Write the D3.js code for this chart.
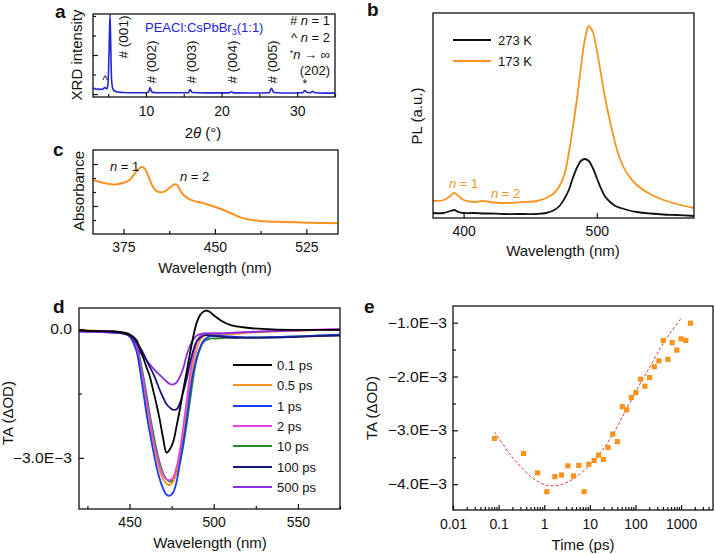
<!DOCTYPE html>
<html><head><meta charset="utf-8">
<script src="https://cdn.jsdelivr.net/npm/d3@7"></script>
<style>
body{margin:0;background:#fff}
svg{display:block}
text{font-family:"Liberation Sans",Arial,Helvetica,sans-serif;fill:#111}
</style>
</head><body>
<svg id="fig" width="715" height="554"></svg>
<script>
// ---------- Panel a : XRD ----------
const xrdTheta = [3.0,3.2,3.4,3.6,3.8,4.0,4.2,4.4,4.55,4.7,4.85,4.95,5.05,5.15,5.25,5.35,5.45,5.6,5.8,6.2,7,8.5,10.0,10.35,10.55,10.75,11.1,13,15.6,15.85,16.1,18,21.0,21.3,21.6,24,26.3,26.6,26.9,28,30.7,31.0,31.3,31.7,32.05,32.4,33.5,35];
const xrdInt   = [260,300,240,270,230,260,240,280,340,300,280,420,1100,2600,4080,2400,800,300,170,110,80,70,70,110,330,120,75,65,70,230,80,60,60,120,60,55,70,300,80,55,65,180,90,70,140,65,50,50];
const xrdPeakLabels = ["# (001)","# (002)","# (003)","# (004)","# (005)"];
const xrdPeakPos = [5.25,10.55,15.85,21.3,26.6];
const xrdXTicks = [10,20,30];
const xrdXMinor = [5,15,25,35];

// ---------- Panel b : PL ----------
const plWl    = [377,385,390,393,396,400,408,415,420,430,445,455,462,468,472,476,479,482,485,488,491,494,497,500,503,506,510,514,518,523,530,540,550,560,573];
const pl173K  = [17,18,22,25,22,18,16,17,16,15,16,17,20,25,32,45,65,90,118,150,178,192,186,168,145,122,96,74,57,44,33,24,18,14,10];
const pl273K  = [5,5,7,8,6,5,5,4.5,4.5,4,4,4,5,8,12,20,28,40,50,57,59,57,50,40,30,22,16,12,10,8,6,4.5,3.5,3,2];
const plXTicks = [400,500];

// ---------- Panel c : absorbance ----------
const absWl  = [350,358,365,370,375,380,384,388,390.5,393,396,399,402,405,409,413,417,419,422,426,432,440,448,456,464,471,479,487,497,506,520,535,551];
const absVal = [3.86,3.66,3.55,3.56,3.66,3.86,4.3,4.7,4.81,4.6,4.0,3.4,3.08,2.98,3.05,3.3,3.55,3.5,3.05,2.65,2.38,2.22,2.0,1.75,1.45,1.19,1.02,0.93,0.88,0.86,0.82,0.79,0.76];
const absXTicks = [375,450,525];
const absXMinor = [412.5,487.5];

// ---------- Panel d : TA spectra (values in 1E-3 OD) ----------
const taWl = [420,430,440,446,450,454,456,458,460,462,464,466,468,470,472,474,476,478,480,482,484,486,488,490,492,494,496,498,500,505,510,520,535,550,575];
const ta01  = [-0.03,-0.05,-0.05,-0.08,-0.12,-0.25,-0.45,-0.65,-0.88,-1.1,-1.42,-1.75,-2.12,-2.55,-2.88,-2.8,-2.62,-2.25,-1.85,-1.4,-0.98,-0.55,-0.15,0.16,0.33,0.41,0.43,0.39,0.32,0.18,0.09,0.03,-0.01,-0.02,-0.02];
const ta05  = [-0.02,-0.04,-0.06,-0.08,-0.15,-0.45,-0.85,-1.3,-1.8,-2.25,-2.65,-3.0,-3.3,-3.5,-3.6,-3.63,-3.55,-3.3,-2.95,-2.45,-1.9,-1.3,-0.8,-0.45,-0.25,-0.16,-0.13,-0.12,-0.12,-0.12,-0.12,-0.09,-0.06,-0.04,-0.01];
const ta1   = [-0.04,-0.06,-0.08,-0.1,-0.17,-0.5,-0.9,-1.42,-1.95,-2.4,-2.82,-3.2,-3.5,-3.72,-3.86,-3.88,-3.8,-3.55,-3.1,-2.62,-2.08,-1.45,-0.98,-0.65,-0.42,-0.27,-0.2,-0.16,-0.15,-0.16,-0.17,-0.2,-0.19,-0.17,-0.13];
const ta2   = [-0.06,-0.07,-0.08,-0.1,-0.15,-0.4,-0.75,-1.15,-1.65,-2.1,-2.55,-2.9,-3.2,-3.4,-3.5,-3.52,-3.45,-3.2,-2.8,-2.25,-1.65,-1.05,-0.6,-0.3,-0.16,-0.11,-0.1,-0.1,-0.1,-0.1,-0.09,-0.07,-0.05,-0.03,0.0];
const ta10  = [-0.03,-0.05,-0.07,-0.09,-0.14,-0.35,-0.65,-1.05,-1.5,-1.98,-2.4,-2.8,-3.12,-3.36,-3.5,-3.55,-3.52,-3.35,-3.1,-2.7,-2.2,-1.65,-1.1,-0.7,-0.45,-0.3,-0.25,-0.22,-0.22,-0.21,-0.2,-0.2,-0.19,-0.17,-0.14];
const ta100 = [-0.03,-0.05,-0.07,-0.1,-0.15,-0.3,-0.41,-0.55,-0.72,-0.88,-1.03,-1.22,-1.42,-1.6,-1.75,-1.83,-1.88,-1.87,-1.72,-1.45,-1.15,-0.78,-0.48,-0.28,-0.2,-0.15,-0.14,-0.15,-0.16,-0.18,-0.2,-0.2,-0.2,-0.18,-0.15];
const ta500 = [-0.06,-0.07,-0.08,-0.1,-0.16,-0.35,-0.53,-0.62,-0.72,-0.82,-0.91,-1.0,-1.07,-1.15,-1.22,-1.28,-1.29,-1.24,-1.1,-0.9,-0.6,-0.38,-0.24,-0.15,-0.12,-0.1,-0.1,-0.1,-0.1,-0.1,-0.09,-0.07,-0.05,-0.03,-0.01];
const taLabels = ["0.1 ps","0.5 ps","1 ps","2 ps","10 ps","100 ps","500 ps"];
const taColors = ["#000000","#f7931e","#1b3cf2","#e845e0","#24882c","#17177a","#8a2ee6"];
const taXTicks = [450,500,550];
const taXMinor = [425,475,525,575];
const taYTicks = [0,-3];
const taYMinor = [-1.5];

// ---------- Panel e : TA kinetics (values in 1E-3 OD) ----------
const kinT   = [0.081,0.353,0.715,1.14,1.71,2.39,3.29,4.37,5.72,7.48,9.46,12.4,15.6,19.8,25.0,31.7,40.0,51.5,64.0,81,102,129,161,204,258,326,405,512,637,806,1000,1267,1603];
const kinVal = [-3.15,-3.43,-3.79,-4.14,-3.86,-3.83,-3.66,-3.85,-3.65,-4.14,-3.63,-3.56,-3.46,-3.54,-3.32,-3.07,-3.21,-2.56,-2.62,-2.39,-2.30,-2.05,-2.18,-2.02,-1.82,-1.71,-1.33,-1.68,-1.37,-1.51,-1.30,-1.33,-1.01];
const fitT   = [0.081,0.12,0.172,0.24,0.336,0.46,0.658,1.0,1.52,2.52,4.16,6.87,11.4,18.8,31.1,51.5,101,197,385,637,1000];
const fitVal = [-3.03,-3.24,-3.43,-3.58,-3.71,-3.83,-3.93,-4.01,-4.03,-4.0,-3.91,-3.77,-3.59,-3.37,-3.09,-2.75,-2.28,-1.85,-1.42,-1.14,-0.92];
const kinXTicks = [0.01,0.1,1,10,100,1000];
const kinYTicks = [-1,-2,-3,-4];
const kinYMinor = [-1.5,-2.5,-3.5];

// =====================================================
const svg = d3.select("#fig");
const TICKFS = 14, TITLEFS = 15;
const fmtE = v => v === 0 ? "0.0" : ("\u2212" + Math.abs(v).toFixed(1) + "E\u22123");

function frame(x0,y0,x1,y1){
  svg.append("rect").attr("x",x0).attr("y",y0).attr("width",x1-x0).attr("height",y1-y0)
    .attr("fill","none").attr("stroke","#111").attr("stroke-width",1.3);
}
function xAxis(scale, y, vals, len, fmt, pad){
  const ax = d3.axisBottom(scale).tickValues(vals).tickSize(-len).tickPadding(pad||8)
    .tickFormat(fmt ? fmt : () => "");
  const g = svg.append("g").attr("transform",`translate(0,${y})`).call(ax);
  g.select(".domain").remove();
  g.selectAll("line").attr("stroke","#111").attr("stroke-width",1.2);
  g.selectAll("text").attr("font-size",TICKFS).attr("fill","#111")
    .attr("font-family","Liberation Sans, Arial, sans-serif");
  return g;
}
function yAxis(scale, x, vals, len, fmt, pad, stretch){
  const ax = d3.axisLeft(scale).tickValues(vals).tickSize(-len).tickPadding(pad||7)
    .tickFormat(fmt ? fmt : () => "");
  const g = svg.append("g").attr("transform",`translate(${x},0)`).call(ax);
  g.select(".domain").remove();
  g.selectAll("line").attr("stroke","#111").attr("stroke-width",1.2);
  const t = g.selectAll("text").attr("font-size",TICKFS).attr("fill","#111")
    .attr("font-family","Liberation Sans, Arial, sans-serif");
  if(stretch) t.attr("transform",`scale(${stretch},1)`).attr("x",-(pad||7)/stretch);
  return g;
}
function title(txt, x, y, rot, fs){
  const t = svg.append("text").attr("font-size",fs||TITLEFS).attr("text-anchor","middle")
    .attr("dy","0.35em");
  if(rot) t.attr("transform",`translate(${x},${y}) rotate(-90)`);
  else t.attr("x",x).attr("y",y);
  t.text(txt);
  return t;
}
function letter(ch,x,y){
  svg.append("text").attr("x",x).attr("y",y).attr("font-size",19).attr("font-weight","bold").text(ch);
}
function nEq(x,y,num,color,fs,anchor){
  const t = svg.append("text").attr("x",x).attr("y",y).attr("font-size",fs||13)
    .attr("text-anchor",anchor||"start").style("fill",color||"#111");
  t.append("tspan").attr("font-style","italic").text("n");
  t.append("tspan").text(" = "+num);
  return t;
}

// ================= Panel a =================
{
  const L=93,R=335,T=14,B=97;
  const x = d3.scaleLinear().domain([3,35]).range([L,R]);
  const y = d3.scaleLinear().domain([-150,4100]).range([B,T]);
  const line = d3.line().x((d,i)=>x(xrdTheta[i])).y(d=>y(d)).curve(d3.curveMonotoneX);
  svg.append("defs").append("clipPath").attr("id","clipA").append("rect")
    .attr("x",L).attr("y",T).attr("width",R-L).attr("height",B-T);
  svg.append("path").datum(xrdInt).attr("d",line).attr("fill","none")
    .attr("stroke","#2424d6").attr("stroke-width",1.6).attr("clip-path","url(#clipA)");
  frame(L,T,R,B);
  xAxis(x,B,xrdXTicks,5,d=>d,9);
  xAxis(x,B,xrdXMinor,3,null);
  yAxis(y,L,[0,2000],5,null);
  yAxis(y,L,[1000,3000,4000],3,null);
  // peak labels
  xrdPeakLabels.forEach((lab,i)=>{
    const px = x(xrdPeakPos[i]) + (i===0 ? 13 : 1);
    const py = i===0 ? 37 : 62;
    svg.append("text").attr("font-size",13.5).attr("text-anchor","middle").attr("dy","0.35em")
      .attr("transform",`translate(${px},${py}) rotate(-90)`).text(lab);
  });
  svg.append("text").attr("x",x(4.6)).attr("y",84).attr("font-size",12).attr("text-anchor","middle").text("^");
  svg.append("text").attr("x",x(31.0)).attr("y",88).attr("font-size",12).attr("text-anchor","middle").text("*");
  const pe = svg.append("text").attr("x",145).attr("y",32).attr("font-size",13).style("fill","#2424d6");
  pe.append("tspan").text("PEACl:CsPbBr");
  pe.append("tspan").attr("font-size",9).attr("dy",3).text("3");
  pe.append("tspan").attr("dy",-3).text("(1:1)");
  // key
  const k1 = svg.append("text").attr("x",330).attr("y",25).attr("font-size",13).attr("text-anchor","end");
  k1.append("tspan").text("# "); k1.append("tspan").attr("font-style","italic").text("n"); k1.append("tspan").text(" = 1");
  const k2 = svg.append("text").attr("x",330).attr("y",42).attr("font-size",13).attr("text-anchor","end");
  k2.append("tspan").text("^ "); k2.append("tspan").attr("font-style","italic").text("n"); k2.append("tspan").text(" = 2");
  const k3 = svg.append("text").attr("x",330).attr("y",59).attr("font-size",13).attr("text-anchor","end");
  k3.append("tspan").attr("font-size",9).attr("dy",-3).text("*"); k3.append("tspan").attr("dy",3).attr("font-style","italic").text("n"); k3.append("tspan").text(" \u2192 \u221e");
  svg.append("text").attr("x",330).attr("y",75).attr("font-size",13).attr("text-anchor","end").text("(202)");
  title("XRD intensity",77,55,true);
  const tt = svg.append("text").attr("x",203).attr("y",133).attr("dy","0.35em").attr("font-size",TITLEFS).attr("text-anchor","middle");
  tt.append("tspan").text("2"); tt.append("tspan").attr("font-style","italic").text("\u03b8"); tt.append("tspan").text(" (\u00b0)");
  letter("a",55,18);
}

// ================= Panel b =================
{
  const L=433,R=694,T=13,B=218;
  const x = d3.scaleLinear().domain([377,573]).range([L,R]);
  const y = d3.scaleLinear().domain([0,205]).range([B,T]);
  const mk = arr => d3.line().x((d,i)=>x(plWl[i])).y(d=>y(d)).curve(d3.curveCatmullRom)(arr);
  svg.append("path").attr("d",mk(pl273K)).attr("fill","none").attr("stroke","#111").attr("stroke-width",1.8);
  svg.append("path").attr("d",mk(pl173K)).attr("fill","none").attr("stroke","#f7931e").attr("stroke-width",1.8);
  frame(L,T,R,B);
  xAxis(x,B,plXTicks,5,d=>d,8);
  // legend
  [["273 K","#111",40],["173 K","#f7931e",61]].forEach(([lab,c,yy])=>{
    svg.append("line").attr("x1",453).attr("x2",491).attr("y1",yy).attr("y2",yy).attr("stroke",c).attr("stroke-width",2);
    svg.append("text").attr("x",498).attr("y",yy).attr("dy","0.35em").attr("font-size",13).text(lab);
  });
  nEq(449,188,1,"#f7931e",13);
  nEq(491,198,2,"#f7931e",13);
  title("PL (a.u.)",417,116,true);
  title("Wavelength (nm)",563,251,false);
  letter("b",367,16);
}

// ================= Panel c =================
{
  const L=93,R=338,T=150,B=234;
  const x = d3.scaleLinear().domain([350,551]).range([L,R]);
  const y = d3.scaleLinear().domain([0,6]).range([B,T]);
  const line = d3.line().x((d,i)=>x(absWl[i])).y(d=>y(d)).curve(d3.curveCatmullRom);
  svg.append("path").datum(absVal).attr("d",line).attr("fill","none").attr("stroke","#f7931e").attr("stroke-width",2);
  frame(L,T,R,B);
  xAxis(x,B,absXTicks,5,d=>d,8);
  xAxis(x,B,absXMinor,3,null);
  yAxis(y,L,[2,5],5,null);
  yAxis(y,L,[1,3,4],3,null);
  nEq(110,171,1,"#111",13);
  nEq(180,181,2,"#111",13);
  title("Absorbance",79,191,true);
  title("Wavelength (nm)",215,268,false);
  letter("c",53,156);
}

// ================= Panel d =================
{
  const L=79,R=340,T=308,B=509;
  const x = d3.scaleLinear().domain([420,575]).range([L,R]);
  const y = d3.scaleLinear().domain([-4.19,0.49]).range([B,T]);
  const series = [ta01,ta05,ta1,ta2,ta10,ta100,ta500];
  const line = d3.line().x((d,i)=>x(taWl[i])).y(d=>y(d)).curve(d3.curveCatmullRom);
  [4,1,3,2,6,5,0].forEach(k=>{
    svg.append("path").datum(series[k]).attr("d",line).attr("fill","none")
      .attr("stroke",taColors[k]).attr("stroke-width",1.8);
  });
  frame(L,T,R,B);
  xAxis(x,B,taXTicks,5,d=>d,8);
  xAxis(x,B,taXMinor,3,null);
  yAxis(y,L,taYTicks,5,fmtE,7,1.12);
  yAxis(y,L,taYMinor,3,null);
  const legY = [365,385,406,426,446,467,487];
  taLabels.forEach((lab,i)=>{
    svg.append("line").attr("x1",233).attr("x2",272).attr("y1",legY[i]).attr("y2",legY[i])
      .attr("stroke",taColors[i]).attr("stroke-width",2);
    svg.append("text").attr("x",277).attr("y",legY[i]).attr("dy","0.35em").attr("font-size",13).text(lab);
  });
  title("TA (\u0394OD)",8,413,true);
  title("Wavelength (nm)",210,543,false);
  letter("d",53,313);
}

// ================= Panel e =================
{
  const L=453,R=713,T=306,B=510;
  const x = d3.scaleLog().domain([0.01,5000]).range([L,R]);
  const y = d3.scaleLinear().domain([-4.48,-0.69]).range([B,T]);
  const fit = d3.line().x((d,i)=>x(fitT[i])).y(d=>y(d)).curve(d3.curveCatmullRom);
  svg.append("path").datum(fitVal).attr("d",fit).attr("fill","none").attr("stroke","#e23a3a")
    .attr("stroke-width",1).attr("stroke-dasharray","3,2");
  svg.selectAll(".kin").data(kinVal).enter().append("rect")
    .attr("x",(d,i)=>x(kinT[i])-2.6).attr("y",d=>y(d)-2.6).attr("width",5.2).attr("height",5.2)
    .attr("fill","#f7931e");
  frame(L,T,R,B);
  const minor = [];
  [0.01,0.1,1,10,100,1000].forEach(dec=>{ for(let m=2;m<=9;m++){ const v=dec*m; if(v<5000) minor.push(v);} });
  xAxis(x,B,kinXTicks,5,d=>String(d),9);
  xAxis(x,B,minor,3,null);
  yAxis(y,L,kinYTicks,5,fmtE,6,1.12);
  yAxis(y,L,kinYMinor,3,null);
  title("TA (\u0394OD)",372,408,true);
  title("Time (ps)",583,545,false);
  letter("e",364,313);
}
</script>
</body></html>
